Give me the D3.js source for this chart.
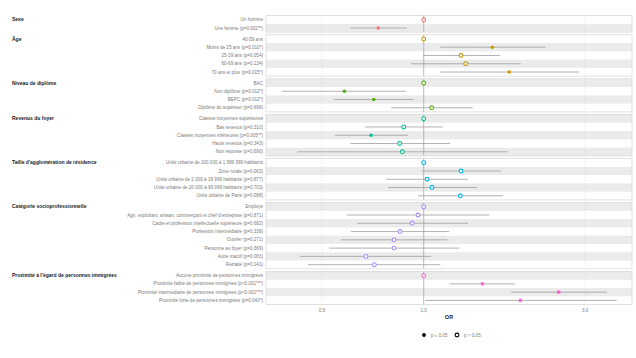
<!DOCTYPE html>
<html><head><meta charset="utf-8">
<script src="https://cdn.jsdelivr.net/npm/d3@7/dist/d3.min.js"></script>
<style>body{margin:0;background:#fff}svg{display:block;font-family:"Liberation Sans",Arial,sans-serif}</style>
</head><body><svg id="c" width="636" height="358"></svg>
<script>
const groups = ["Sexe","Âge","Niveau de diplôme","Revenus du foyer","Taille d'agglomération de résidence","Catégorie socioprofessionnelle","Proximité à l'égard de personnes immigrées"];
const groupColors = ["#F8766D","#C49A00","#53B400","#00C094","#00B6EB","#A58AFF","#FB61D7"];
const labels = [
 ["Un homme","Une femme (p=0.002**)"],
 ["40-59 ans","Moins de 25 ans (p=0.010*)","25-39 ans (p=0.054)","60-69 ans (p=0.134)","70 ans et plus (p=0.015*)"],
 ["BAC","Non diplômé (p=0.012*)","BEPC (p=0.012*)","Diplômé du supérieur (p=0.698)"],
 ["Classes moyennes supérieures","Bas revenus (p=0.310)","Classes moyennes inférieures (p=0.005**)","Hauts revenus (p=0.343)","Non réponse (p=0.690)"],
 ["Unité urbaine de 100 000 à 1 999 999 habitants","Zone rurale (p=0.063)","Unité urbaine de 2 000 à 19 999 habitants (p=0.877)","Unité urbaine de 20 000 à 99 999 habitants (p=0.703)","Unité urbaine de Paris (p=0.088)"],
 ["Employé","Agri. exploitant, artisan, commerçant et chef d'entreprise (p=0.871)","Cadre et profession intellectuelle supérieure (p=0.682)","Profession Intermédiaire (p=0.338)","Ouvrier (p=0.271)","Personne au foyer (p=0.369)","Autre inactif (p=0.083)","Retraité (p=0.141)"],
 ["Aucune proximité de personnes immigrées","Proximité faible de personnes immigrées (p<0.001***)","Proximité intermédiaire de personnes immigrées (p<0.001***)","Proximité forte  de personnes immigrées (p=0.040*)"]
];
const orValues = [
 [1,0.734],
 [1,1.595,1.289,1.331,1.79],
 [1,0.583,0.712,1.056],
 [1,0.873,0.699,0.849,0.865],
 [1,1.289,1.023,1.058,1.283],
 [1,0.962,0.925,0.851,0.817,0.817,0.675,0.715],
 [1,1.49,2.505,1.93]
];
const ciLow = [
 [null,0.607],
 [null,1.12,0.995,0.915,1.12],
 [null,0.381,0.543,0.801],
 [null,0.672,0.547,0.607,0.423],
 [null,0.988,0.775,0.784,0.964],
 [null,0.592,0.635,0.610,0.569,0.525,0.430,0.455],
 [null,1.196,1.811,1.009]
];
const ciHigh = [
 [null,0.891],
 [null,2.29,1.677,1.935,2.877],
 [null,0.887,0.934,1.396],
 [null,1.138,0.899,1.196,1.778],
 [null,1.689,1.352,1.437,1.716],
 [null,1.563,1.352,1.188,1.174,1.272,1.053,1.12],
 [null,1.857,3.472,3.716]
];
const significant = [
 [false,true],
 [false,true,false,false,true],
 [false,true,true,false],
 [false,false,true,false,false],
 [false,false,false,false,false],
 [false,false,false,false,false,false,false,false],
 [false,true,true,true]
];
const tickValues = [0.5,1.0,3.0];
const tickLabels = ["0.5","1.0","3.0"];
const legendLabels = ["p ≤ 0.05","p > 0.05"];

const svg = d3.select("#c");
const x = d3.scaleLog().domain([0.342,4.125]).range([266,632]);
const top0 = 15.6, step = 8.28, gap = 2.62;

let globalIdx = 0, yCur = top0;
const panels = [];
groups.forEach((g,gi)=>{
  const n = labels[gi].length;
  const h = n*step;
  const y = d3.scaleBand().domain(labels[gi]).range([yCur, yCur+h]).paddingInner(0).paddingOuter(0);
  panels.push({g,gi,y,top:yCur,h,start:globalIdx});
  globalIdx += n; yCur += h + gap;
});

panels.forEach(p=>{
  const G = svg.append("g");
  G.append("rect").attr("x",266).attr("y",p.top).attr("width",366).attr("height",p.h).attr("fill","#fff");
  labels[p.gi].forEach((lab,i)=>{
    if ((p.start+i)%2===1)
      G.append("rect").attr("x",266).attr("y",p.y(lab)).attr("width",366).attr("height",p.y.bandwidth()).attr("fill","#ebebeb");
  });
  [0.5,3.0].forEach(t=>{
    G.append("line").attr("x1",x(t)).attr("x2",x(t)).attr("y1",p.top).attr("y2",p.top+p.h)
      .attr("stroke","#d8d8d8").attr("stroke-width",0.6).attr("stroke-dasharray","1.5,1.5");
  });
  G.append("line").attr("x1",x(1)).attr("x2",x(1)).attr("y1",p.top).attr("y2",p.top+p.h)
    .attr("stroke","#a6a6a6").attr("stroke-width",0.8);
  G.append("rect").attr("x",266).attr("y",p.top).attr("width",366).attr("height",p.h)
    .attr("fill","none").attr("stroke","#d9d9d9").attr("stroke-width",0.8);
  // group title
  G.append("text").attr("x",12).attr("y",p.y(labels[p.gi][0])+p.y.bandwidth()/2).attr("dy","0.35em")
    .attr("font-size",5).attr("font-weight","bold").attr("fill","#222").text(p.g);
  const col = groupColors[p.gi];
  labels[p.gi].forEach((lab,i)=>{
    const cy = p.y(lab)+p.y.bandwidth()/2;
    G.append("text").attr("x",263).attr("y",cy).attr("dy","0.35em").attr("text-anchor","end")
      .attr("font-size",4.6).attr("fill","#7a7a7a").text(lab);
    if (ciLow[p.gi][i]!=null)
      G.append("line").attr("x1",x(ciLow[p.gi][i])).attr("x2",x(ciHigh[p.gi][i])).attr("y1",cy).attr("y2",cy)
        .attr("stroke","#a8a8a8").attr("stroke-width",0.9);
    if (significant[p.gi][i])
      G.append("circle").attr("cx",x(orValues[p.gi][i])).attr("cy",cy).attr("r",1.8).attr("fill",col);
    else
      G.append("circle").attr("cx",x(orValues[p.gi][i])).attr("cy",cy).attr("r",1.9).attr("fill","#fff")
        .attr("stroke",col).attr("stroke-width",1.1);
  });
});

// x axis
const ax = svg.append("g").attr("transform","translate(0,305)");
tickValues.forEach((t,i)=>{
  ax.append("text").attr("x",x(t)).attr("y",7).attr("text-anchor","middle")
    .attr("font-size",4.6).attr("fill","#7a7a7a").text(tickLabels[i]);
});
svg.append("text").attr("x",449).attr("y",319).attr("text-anchor","middle")
  .attr("font-size",5.6).attr("font-weight","bold").attr("fill","#222").text("OR");

// legend
const lg = svg.append("g");
lg.append("circle").attr("cx",424).attr("cy",335).attr("r",1.9).attr("fill","#000");
lg.append("text").attr("x",431).attr("y",335).attr("dy","0.35em").attr("font-size",4.6).attr("fill","#7a7a7a").text(legendLabels[0]);
lg.append("circle").attr("cx",457).attr("cy",335).attr("r",1.9).attr("fill","#fff").attr("stroke","#000").attr("stroke-width",1.1);
lg.append("text").attr("x",464).attr("y",335).attr("dy","0.35em").attr("font-size",4.6).attr("fill","#7a7a7a").text(legendLabels[1]);
</script></body></html>
